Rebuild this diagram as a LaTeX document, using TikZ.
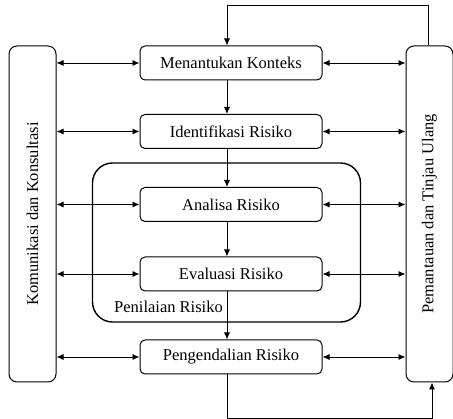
\documentclass[tikz,border=0pt]{standalone}
\usepackage{fontspec}
\setmainfont{Liberation Serif}
\usetikzlibrary{arrows.meta}
\begin{document}
\begin{tikzpicture}[x=1pt,y=-1pt,
  txt/.style={font=\fontsize{16.5}{19}\selectfont},
  stepbox/.style={draw,line width=1pt,rounded corners=5pt,minimum width=182pt,minimum height=34pt,inner sep=0pt,txt},
  sidebox/.style={draw,line width=1pt,rounded corners=8pt,minimum width=47pt,minimum height=336pt,inner sep=0pt},
  arr/.style={line width=0.9pt,-{Latex[length=7pt,width=6pt]}},
  darr/.style={line width=0.9pt,{Latex[length=7pt,width=6pt]}-{Latex[length=7pt,width=6pt]}},
  sidetext/.style={rotate=90,txt}
]
\useasboundingbox (0,0) rectangle (453,419);
\node[sidebox] (L) at (32.5,214) {};
\node[sidetext] (Lt) at (L.center) {Komunikasi dan Konsultasi};
\node[sidebox] (R) at (429.5,214) {};
\node[sidetext] (Rt) at (R.center) {Pemantauan dan Tinjau Ulang};
\node[draw,line width=1.4pt,rounded corners=20pt,minimum width=268pt,minimum height=159pt] (P) at (226.5,242.5) {};
\node[stepbox] (k) at (231,63) {Menantukan Konteks};
\node[stepbox] (i) at (231,131.5) {Identifikasi Risiko};
\node[stepbox] (a) at (231,204.5) {Analisa Risiko};
\node[stepbox] (e) at (231,274) {Evaluasi Risiko};
\node[stepbox] (g) at (231,357) {Pengendalian Risiko};
\node[txt,anchor=west,inner sep=0pt] (pl) at (114,307) {Penilaian Risiko};
\coordinate (x) at (227,0);
\draw[arr] (k.south -| x) -- (i.north -| x);
\draw[arr] (i.south -| x) -- (a.north -| x);
\draw[arr] (a.south -| x) -- (e.north -| x);
\draw[arr] (e.south -| x) -- (g.north -| x);
\foreach \n in {k,i,a,e,g}{
  \draw[darr] (L.east |- \n.west) -- (\n.west);
  \draw[darr] (\n.east) -- (R.west |- \n.east);
}
\coordinate (t1) at (428,5);
\draw[arr] (t1 |- R.north) -- (t1) -- (t1 -| x) -- (k.north -| x);
\coordinate (b1) at (432,418);
\draw[arr] (g.south -| x) -- (b1 -| x) -- (b1) -- (b1 |- R.south);
\end{tikzpicture}
\end{document}
